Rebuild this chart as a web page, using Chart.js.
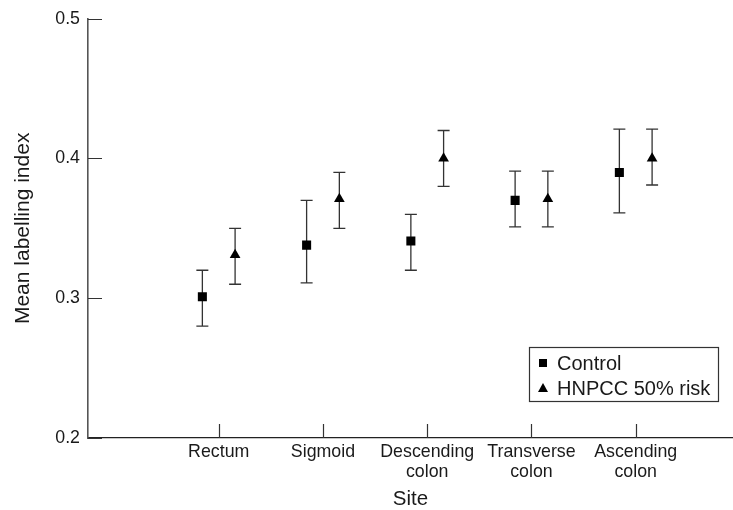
<!DOCTYPE html>
<html>
<head>
<meta charset="utf-8">
<script src="https://cdn.jsdelivr.net/npm/chart.js@4"></script>
<style>
  html, body { margin: 0; padding: 0; background: #fff; }
  canvas { display: block; }
</style>
</head>
<body>
<canvas id="c" width="733" height="510"></canvas>
<script>
// ---- data ----
const sites = [['Rectum'], ['Sigmoid'], ['Descending', 'colon'], ['Transverse', 'colon'], ['Ascending', 'colon']];
const controlMean = [0.301, 0.338, 0.341, 0.370, 0.390];
const controlLow  = [0.280, 0.311, 0.320, 0.351, 0.361];
const controlHigh = [0.320, 0.370, 0.360, 0.391, 0.421];
const hnpccMean = [0.331, 0.371, 0.400, 0.371, 0.400];
const hnpccLow  = [0.310, 0.350, 0.380, 0.351, 0.381];
const hnpccHigh = [0.350, 0.390, 0.420, 0.391, 0.421];
const yTicks = [0.2, 0.3, 0.4, 0.5];
const seriesNames = ['Control', 'HNPCC 50% risk'];

// ---- presentation ----
const FONT = '"Liberation Sans", Arial, Helvetica, sans-serif';
const TEXT = '#1a1a1a';
const GROUP_OFFSET = 0.157;

function pts(means, lows, highs, off) {
  return means.map((m, i) => ({ x: i + 1 + off, y: m, lo: lows[i], hi: highs[i] }));
}

const errorBars = {
  id: 'errorBars',
  beforeDatasetsDraw(chart) {
    const { ctx, scales: { x, y } } = chart;
    ctx.save();
    ctx.strokeStyle = '#333';
    ctx.lineWidth = 1.3;
    chart.data.datasets.forEach(ds => {
      ds.data.forEach(p => {
        const px = x.getPixelForValue(p.x);
        const top = y.getPixelForValue(p.hi);
        const bot = y.getPixelForValue(p.lo);
        const cap = 6;
        ctx.beginPath();
        ctx.moveTo(px, top); ctx.lineTo(px, bot);
        ctx.moveTo(px - cap, top); ctx.lineTo(px + cap, top);
        ctx.moveTo(px - cap, bot); ctx.lineTo(px + cap, bot);
        ctx.stroke();
      });
    });
    ctx.restore();
  }
};

const innerTicks = {
  id: 'innerTicks',
  afterDraw(chart) {
    const { ctx, scales: { x, y }, chartArea } = chart;
    ctx.save();
    ctx.strokeStyle = '#333';
    ctx.lineWidth = 1.2;
    ctx.beginPath();
    y.ticks.forEach(t => {
      const py = Math.round(y.getPixelForValue(t.value)) + 0.5;
      ctx.moveTo(chartArea.left, py); ctx.lineTo(chartArea.left + 14, py);
    });
    x.ticks.forEach(t => {
      const px = Math.round(x.getPixelForValue(t.value)) + 0.5;
      ctx.moveTo(px, chartArea.bottom); ctx.lineTo(px, chartArea.bottom - 14);
    });
    ctx.stroke();
    ctx.restore();
  }
};

const boxLegend = {
  id: 'boxLegend',
  afterDraw(chart) {
    const { ctx, chartArea } = chart;
    const w = 189, h = 54;
    const right = chartArea.right - 15, bottom = chartArea.bottom - 37;
    const left = right - w, top = bottom - h;
    ctx.save();
    ctx.fillStyle = '#fff';
    ctx.fillRect(left, top, w, h);
    ctx.strokeStyle = '#333';
    ctx.lineWidth = 1.2;
    ctx.strokeRect(left + 0.5, top + 0.5, w, h);
    ctx.font = '20px ' + FONT;
    ctx.textBaseline = 'middle';
    ctx.textAlign = 'left';
    chart.data.datasets.forEach((ds, i) => {
      const cy = top + 16 + i * 25;
      const mx = left + 14;
      ctx.fillStyle = '#000';
      if (ds.pointStyle === 'rect') {
        ctx.fillRect(mx - 4, cy - 4, 8, 8);
      } else {
        ctx.beginPath();
        ctx.moveTo(mx, cy - 5);
        ctx.lineTo(mx + 5, cy + 4);
        ctx.lineTo(mx - 5, cy + 4);
        ctx.closePath();
        ctx.fill();
      }
      ctx.fillStyle = TEXT;
      ctx.fillText(ds.label, left + 28, cy + 1);
    });
    ctx.restore();
  }
};

new Chart(document.getElementById('c'), {
  type: 'scatter',
  data: {
    datasets: [
      {
        label: seriesNames[0],
        data: pts(controlMean, controlLow, controlHigh, -GROUP_OFFSET),
        pointStyle: 'rect',
        pointRadius: 6.4,
        backgroundColor: '#000',
        borderColor: '#000',
        borderWidth: 0
      },
      {
        label: seriesNames[1],
        data: pts(hnpccMean, hnpccLow, hnpccHigh, GROUP_OFFSET),
        pointStyle: 'triangle',
        pointRadius: 6.2,
        backgroundColor: '#000',
        borderColor: '#000',
        borderWidth: 0
      }
    ]
  },
  options: {
    responsive: false,
    devicePixelRatio: 1,
    animation: false,
    layout: { autoPadding: false, padding: { top: 18, right: 0, bottom: 0, left: 0 } },
    plugins: { legend: { display: false }, tooltip: { enabled: false } },
    scales: {
      x: {
        type: 'linear',
        min: -0.254,
        max: 5.933,
        grid: { display: false, drawTicks: false },
        border: { display: true, color: '#222', width: 1.3 },
        afterBuildTicks: s => { s.ticks = sites.map((_, i) => ({ value: i + 1 })); },
        afterFit: s => { s.height = 72; s.paddingLeft = 0; s.paddingRight = 0; },
        ticks: {
          padding: 4,
          maxRotation: 0,
          autoSkip: false,
          color: TEXT,
          font: { family: FONT, size: 17.8, lineHeight: '20px' },
          callback: v => sites[Math.round(v) - 1]
        },
        title: {
          display: true,
          text: 'Site',
          color: TEXT,
          font: { family: FONT, size: 20.5, lineHeight: 1 },
          padding: { top: 0, bottom: 0 }
        }
      },
      y: {
        min: 0.2,
        max: 0.5,
        grid: { display: false, drawTicks: false },
        border: { display: true, color: '#555', width: 1.6 },
        afterBuildTicks: s => { s.ticks = yTicks.map(v => ({ value: v })); },
        afterFit: s => { s.width = 88; },
        ticks: {
          padding: 8,
          color: TEXT,
          font: { family: FONT, size: 17.8 },
          callback: v => v.toFixed(1)
        },
        title: {
          display: true,
          text: 'Mean labelling index',
          color: TEXT,
          font: { family: FONT, size: 21, lineHeight: 1 },
          padding: { top: 13, bottom: 0 }
        }
      }
    }
  },
  plugins: [errorBars, innerTicks, boxLegend]
});
</script>
</body>
</html>
